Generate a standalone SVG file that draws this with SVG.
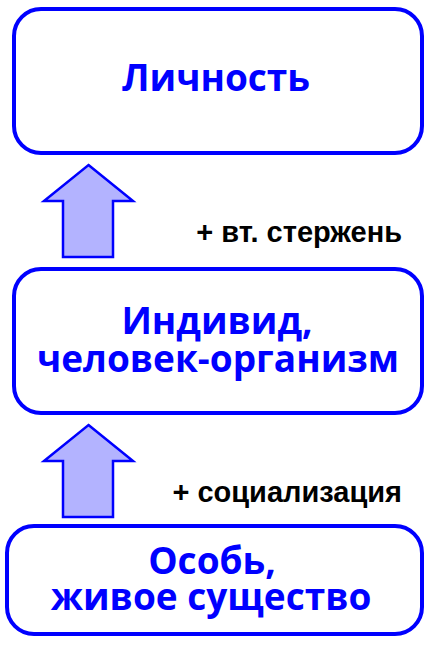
<svg xmlns="http://www.w3.org/2000/svg" width="434" height="651" viewBox="0 0 434 651">
<style>
.box{fill:#fff;stroke:#0000ff;stroke-width:4}
.lbl{font-family:"Open Sans","Noto Sans",sans-serif;font-weight:bold;font-size:37px;fill:#0000ff;text-anchor:middle}
.note{font-family:"Liberation Sans",Arial,sans-serif;font-weight:bold;font-size:29px;fill:#000;text-anchor:end}
.arrow{fill:#b3b3ff;stroke:#0000ff;stroke-width:2.5;stroke-linejoin:miter}
</style>
<rect width="434" height="651" fill="#fff"/>
<g id="lichnost">
<rect class="box" x="14" y="9" width="408" height="144" rx="27"/>
<text class="lbl" x="216" y="91">Личность</text>
</g>
<g id="individ">
<rect class="box" x="14" y="269" width="408" height="144" rx="27"/>
<text class="lbl"><tspan x="217" y="334">Индивид,</tspan><tspan x="218" y="372">человек-организм</tspan></text>
</g>
<g id="osob">
<rect class="box" x="7" y="526" width="415" height="108" rx="27"/>
<text class="lbl"><tspan x="212" y="574">Особь,</tspan><tspan x="211" y="610">живое существо</tspan></text>
</g>
<g id="connectors">
<polygon class="arrow" points="88.5,165 133,201 113,201 113,257 63,257 63,201 44,201"/>
<polygon class="arrow" points="88.5,425 133,461 113,461 113,517 63,517 63,461 44,461"/>
<text class="note" x="402" y="242">+ вт. стержень</text>
<text class="note" x="402" y="502">+ социализация</text>
</g>
</svg>
